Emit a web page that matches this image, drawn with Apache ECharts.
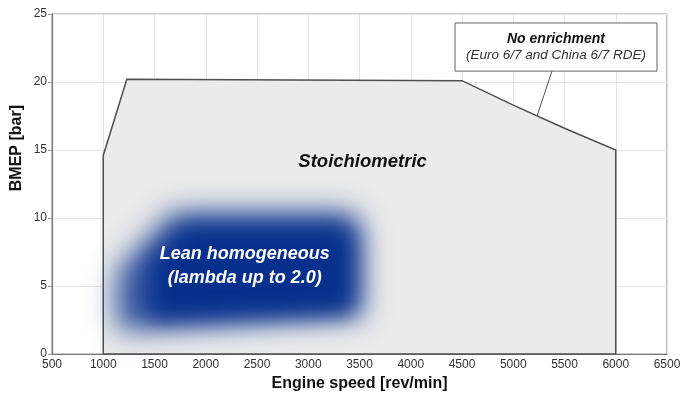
<!DOCTYPE html>
<html>
<head>
<meta charset="utf-8">
<script src="https://cdn.jsdelivr.net/npm/echarts@6/dist/echarts.min.js"></script>
<style>
html,body{margin:0;padding:0;background:#fff;}
#c{width:682px;height:393px;}
</style>
</head>
<body>
<div id="c"></div>
<script>
// Stoichiometric operating envelope
var envSpeed = [1000, 1000, 1230, 4500, 5000, 5500, 6000, 6000];
var envBmep  = [0, 14.6, 20.2, 20.1, 18.3, 16.6, 15.0, 0];
// Lean homogeneous region (blurred): outer halo and dark core
var leanOuterSpeed = [1680, 3420, 3530, 3530, 1130, 1130];
var leanOuterBmep  = [10.45, 10.45, 9.3, 2.8, 1.7, 6.1];
var leanCoreSpeed  = [1798, 3339, 3427, 3427, 1456, 1456];
var leanCoreBmep   = [9.41, 9.41, 8.68, 3.09, 2.5, 6.76];
// Labels
var stoichLabel = {speed: 3530, bmep: 14.1, text: 'Stoichiometric'};
var leanLabel = {speed: 2380, bmep: 6.45, lines: ['Lean homogeneous', '(lambda up to 2.0)']};
// Annotation box corners (data coords) and leader line
var noteBoxSpeed = [4432, 6402];
var noteBoxBmep = [24.34, 20.8];
var noteLines = ['No enrichment', '(Euro 6/7 and China 6/7 RDE)'];
var leaderSpeed = [5378, 5232];
var leaderBmep = [20.8, 17.5];
// Axis ticks
var xTicks = {min: 500, max: 6500, step: 500};
var yTicks = {min: 0, max: 25, step: 5};

var FONT = "'Liberation Sans', Arial, sans-serif";
var BLUE = '#07308c';
var OFF = 3000;

function pts(api, xs, ys) {
  return xs.map(function (x, i) { return api.coord([x, ys[i]]); });
}
function shifted(p) { return p.map(function (q) { return [q[0], q[1] - OFF]; }); }

var chart = echarts.init(document.getElementById('c'), null, {renderer: 'canvas'});
chart.setOption({
  animation: false,
  backgroundColor: '#ffffff',
  grid: {left: 52, right: 15, top: 14, bottom: 39, outerBoundsMode: 'none', containLabel: false,
         show: true, borderColor: '#9a9a9a', borderWidth: 1.2, backgroundColor: 'transparent'},
  xAxis: {
    type: 'value', min: xTicks.min, max: xTicks.max, interval: xTicks.step,
    axisLine: {show: true, lineStyle: {color: '#777', width: 1.2}},
    axisTick: {show: false},
    splitLine: {show: true, lineStyle: {color: '#e4e4e4', width: 1}},
    axisLabel: {color: '#333', fontSize: 12, fontFamily: FONT, margin: 5,
                formatter: function (v) { return String(v); }},
    name: 'Engine speed [rev/min]', nameLocation: 'middle', nameGap: 22,
    nameTextStyle: {color: '#111', fontSize: 16, fontWeight: 'bold', fontFamily: FONT, verticalAlign: 'top'}
  },
  yAxis: {
    type: 'value', min: yTicks.min, max: yTicks.max, interval: yTicks.step,
    axisLine: {show: true, lineStyle: {color: '#777', width: 1.2}},
    axisTick: {show: true, length: 4, lineStyle: {color: '#999'}},
    splitLine: {show: true, lineStyle: {color: '#e4e4e4', width: 1}},
    axisLabel: {color: '#333', fontSize: 12, fontFamily: FONT, margin: 5}
  },
  graphic: [{
    type: 'text', left: 9, top: 105, rotation: Math.PI / 2,
    style: {text: 'BMEP [bar]', fill: '#111', font: 'bold 16px ' + FONT}
  }],
  series: [
    {
      type: 'custom', coordinateSystem: 'cartesian2d', silent: true, clip: false, z: 2,
      data: [[envSpeed[0], envBmep[0]]],
      renderItem: function (params, api) {
        return {
          type: 'polygon',
          shape: {points: pts(api, envSpeed, envBmep)},
          style: {fill: '#ebebeb', stroke: '#4f4f4f', lineWidth: 1.5}
        };
      }
    },
    {
      type: 'custom', coordinateSystem: 'cartesian2d', silent: true, clip: false, z: 3,
      data: [[leanCoreSpeed[0], leanCoreBmep[0]]],
      renderItem: function (params, api) {
        var po = shifted(pts(api, leanOuterSpeed, leanOuterBmep));
        var pc = shifted(pts(api, leanCoreSpeed, leanCoreBmep));
        var c = api.coord([leanLabel.speed, leanLabel.bmep]);
        return {
          type: 'group',
          children: [
            {type: 'polygon', shape: {points: po},
             style: {fill: BLUE, shadowBlur: 28, shadowColor: 'rgba(7,48,140,0.8)', shadowOffsetX: 0, shadowOffsetY: OFF}},
            {type: 'polygon', shape: {points: pc},
             style: {fill: BLUE, shadowBlur: 22, shadowColor: BLUE, shadowOffsetX: 0, shadowOffsetY: OFF}},
            {type: 'text', x: c[0], y: c[1],
             style: {text: leanLabel.lines.join('\n'), fill: '#ffffff', font: 'italic bold 18px ' + FONT,
                     align: 'center', verticalAlign: 'middle', lineHeight: 24}}
          ]
        };
      }
    },
    {
      type: 'custom', coordinateSystem: 'cartesian2d', silent: true, clip: false, z: 4,
      data: [[stoichLabel.speed, stoichLabel.bmep]],
      renderItem: function (params, api) {
        var c = api.coord([stoichLabel.speed, stoichLabel.bmep]);
        var b0 = api.coord([noteBoxSpeed[0], noteBoxBmep[0]]);
        var b1 = api.coord([noteBoxSpeed[1], noteBoxBmep[1]]);
        var l = pts(api, leaderSpeed, leaderBmep);
        var cx = (b0[0] + b1[0]) / 2;
        return {
          type: 'group',
          children: [
            {type: 'text', x: c[0], y: c[1],
             style: {text: stoichLabel.text, fill: '#111', font: 'italic bold 18.5px ' + FONT,
                     align: 'center', verticalAlign: 'middle'}},
            {type: 'line', shape: {x1: l[0][0], y1: l[0][1], x2: l[1][0], y2: l[1][1]},
             style: {stroke: '#555', lineWidth: 1}},
            {type: 'rect', shape: {x: b0[0], y: b0[1], width: b1[0] - b0[0], height: b1[1] - b0[1]},
             style: {fill: '#fff', stroke: '#666', lineWidth: 1}},
            {type: 'text', x: cx, y: b0[1] + 16,
             style: {text: noteLines[0], fill: '#111', font: 'italic bold 14px ' + FONT,
                     align: 'center', verticalAlign: 'middle'}},
            {type: 'text', x: cx, y: b0[1] + 32,
             style: {text: noteLines[1], fill: '#333', font: 'italic 13.5px ' + FONT,
                     align: 'center', verticalAlign: 'middle'}}
          ]
        };
      }
    }
  ]
});
</script>
</body>
</html>
